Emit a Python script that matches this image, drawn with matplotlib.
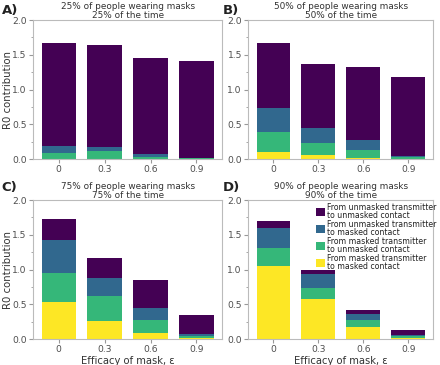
import matplotlib
matplotlib.use("Agg")
import matplotlib.pyplot as plt
import numpy as np
from matplotlib.ticker import MultipleLocator

# mask efficacy values on the x axis
efficacy = ["0", "0.3", "0.6", "0.9"]

panel_letters = ["A)", "B)", "C)", "D)"]
panel_titles = [
    "25% of people wearing masks\n25% of the time",
    "50% of people wearing masks\n50% of the time",
    "75% of people wearing masks\n75% of the time",
    "90% of people wearing masks\n90% of the time",
]

series_labels = [
    "From unmasked transmitter\nto unmasked contact",
    "From unmasked transmitter\nto masked contact",
    "From masked transmitter\nto unmasked contact",
    "From masked transmitter\nto masked contact",
]

# R0 contributions per panel, bottom layer first:
# masked->masked, masked->unmasked, unmasked->masked, unmasked->unmasked
masked_masked = [
    [0.005, 0.005, 0.002, 0.001],
    [0.105, 0.062, 0.020, 0.002],
    [0.529, 0.255, 0.082, 0.019],
    [1.053, 0.572, 0.168, 0.019],
]
masked_unmasked = [
    [0.081, 0.105, 0.022, 0.009],
    [0.292, 0.172, 0.114, 0.027],
    [0.423, 0.360, 0.187, 0.029],
    [0.250, 0.164, 0.111, 0.019],
]
unmasked_masked = [
    [0.096, 0.067, 0.048, 0.009],
    [0.335, 0.216, 0.139, 0.019],
    [0.471, 0.270, 0.173, 0.029],
    [0.288, 0.202, 0.082, 0.024],
]
unmasked_unmasked = [
    [1.483, 1.459, 1.387, 1.392],
    [0.943, 0.914, 1.057, 1.129],
    [0.307, 0.278, 0.404, 0.274],
    [0.101, 0.052, 0.052, 0.068],
]

colors = {
    "uu": "#440154",
    "um": "#31688e",
    "mu": "#35b779",
    "mm": "#fde725",
}

# axes rectangles in figure fractions
positions = [
    [0.075, 0.564, 0.430, 0.381],
    [0.564, 0.564, 0.421, 0.381],
    [0.075, 0.071, 0.430, 0.381],
    [0.564, 0.071, 0.421, 0.381],
]
letter_xy = [(0.004, 0.99), (0.506, 0.99), (0.004, 0.505), (0.506, 0.505)]

fig = plt.figure(figsize=(4.4, 3.65), dpi=100)
fig.patch.set_facecolor("white")

x = np.arange(len(efficacy))
for i in range(4):
    ax = fig.add_axes(positions[i])
    mm = np.array(masked_masked[i])
    mu = np.array(masked_unmasked[i])
    um = np.array(unmasked_masked[i])
    uu = np.array(unmasked_unmasked[i])

    ax.bar(x, mm, width=0.75, color=colors["mm"], label=series_labels[3])
    ax.bar(x, mu, width=0.75, bottom=mm, color=colors["mu"], label=series_labels[2])
    ax.bar(x, um, width=0.75, bottom=mm + mu, color=colors["um"], label=series_labels[1])
    ax.bar(x, uu, width=0.75, bottom=mm + mu + um, color=colors["uu"], label=series_labels[0])

    ax.set_ylim(0, 2.0)
    ax.set_xticks(x)
    ax.set_xticklabels(efficacy)
    ax.yaxis.set_major_locator(MultipleLocator(0.5))
    ax.yaxis.set_minor_locator(MultipleLocator(0.25))
    ax.tick_params(axis="both", which="major", labelsize=6.6, colors="#999999",
                   labelcolor="#4d4d4d", length=3, width=0.8, pad=1.5)
    ax.tick_params(axis="y", which="minor", colors="#999999", length=1.8, width=0.6)
    for s in ax.spines.values():
        s.set_color("#bbbbbb")
        s.set_linewidth(0.8)

    ax.set_title(panel_titles[i], fontsize=6.4, color="#333333", pad=1.5,
                 linespacing=1.05)
    fig.text(letter_xy[i][0], letter_xy[i][1], panel_letters[i], fontsize=9.5,
             fontweight="bold", va="top", ha="left", color="#222222")

    if i in (0, 2):
        ax.set_ylabel("R0 contribution", fontsize=7.3, color="#333333")
        ax.yaxis.set_label_coords(-0.104, 0.5)
    if i in (2, 3):
        ax.set_xlabel("Efficacy of mask, ε", fontsize=7.2, color="#333333", labelpad=1)

    if i == 3:
        handles, labels = ax.get_legend_handles_labels()
        leg = ax.legend(handles[::-1], labels[::-1], loc="upper left",
                        bbox_to_anchor=(316 / 440, 1 - 203 / 365),
                        bbox_transform=fig.transFigure, frameon=False,
                        fontsize=5.6, handlelength=1.15, handleheight=1.15,
                        handletextpad=0.3, labelspacing=0.0,
                        borderaxespad=0.0, borderpad=0.0)
        for t in leg.get_texts():
            t.set_linespacing(0.85)
            t.set_color("#222222")

fig.savefig("out.png", dpi=100, facecolor="white")
